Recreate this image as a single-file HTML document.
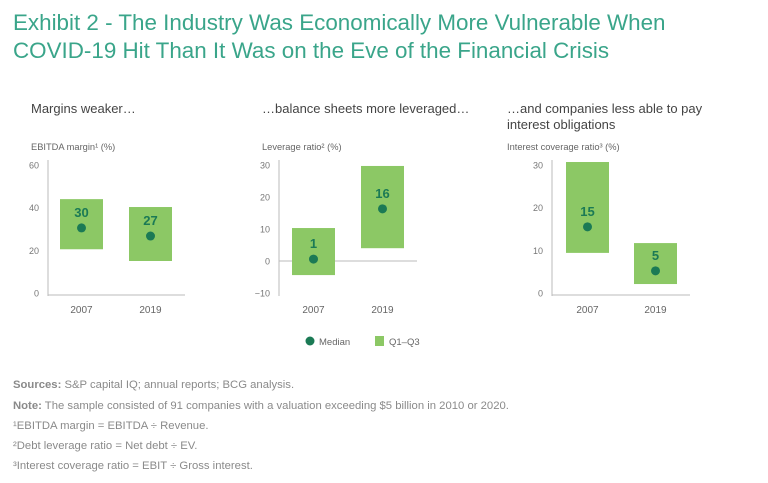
<!DOCTYPE html>
<html><head><meta charset="utf-8"><style>
body{margin:0;background:#fff;}
svg{display:block;font-family:"Liberation Sans",sans-serif;}
</style></head><body>
<svg id="c" width="768" height="483" viewBox="0 0 768 483">
<text x="13" y="30" font-size="22.4" fill="#3aa58a">Exhibit 2 - The Industry Was Economically More Vulnerable When</text>
<text x="13" y="58" font-size="22.4" fill="#3aa58a">COVID-19 Hit Than It Was on the Eve of the Financial Crisis</text>
<text x="31" y="113" font-size="13" fill="#444">Margins weaker…</text>
<text x="262" y="113" font-size="13" fill="#444">…balance sheets more leveraged…</text>
<text x="507" y="113" font-size="13" fill="#444">…and companies less able to pay</text>
<text x="507" y="129" font-size="13" fill="#444">interest obligations</text>
<text x="31" y="150" font-size="9.3" fill="#666">EBITDA margin¹ (%)</text>
<text x="262" y="150" font-size="9.3" fill="#666">Leverage ratio² (%)</text>
<text x="507" y="150" font-size="9.3" fill="#666">Interest coverage ratio³ (%)</text>
<g id="plots"></g>
<circle cx="310" cy="341" r="4.5" fill="#1b7a55"/>
<text x="319" y="345" font-size="9.5" fill="#666">Median</text>
<rect x="375" y="336" width="9" height="10" fill="#8cc865"/>
<text x="389" y="345" font-size="9.5" fill="#666">Q1–Q3</text>
<g font-size="11.3" fill="#8a8a8a">
<text x="13" y="388"><tspan font-weight="bold">Sources:</tspan> S&amp;P capital IQ; annual reports; BCG analysis.</text>
<text x="13" y="409"><tspan font-weight="bold">Note:</tspan> The sample consisted of 91 companies with a valuation exceeding $5 billion in 2010 or 2020.</text>
<text x="13" y="429">¹EBITDA margin = EBITDA ÷ Revenue.</text>
<text x="13" y="449">²Debt leverage ratio = Net debt ÷ EV.</text>
<text x="13" y="469">³Interest coverage ratio = EBIT ÷ Gross interest.</text>
</g>
</svg>
<script>
const years = ["2007","2019"];
const ebitdaQ1 = [20.5, 15];
const ebitdaQ3 = [44, 40.3];
const ebitdaMedian = [30.5, 26.7];
const ebitdaLabels = ["30","27"];
const ebitdaTicks = [0,20,40,60];
const levQ1 = [-4.4, 4];
const levQ3 = [10.3, 29.7];
const levMedian = [0.6, 16.3];
const levLabels = ["1","16"];
const levTicks = [-10,0,10,20,30];
const covQ1 = [9.4, 2.1];
const covQ3 = [30.7, 11.7];
const covMedian = [15.5, 5.2];
const covLabels = ["15","5"];
const covTicks = [0,10,20,30];

const NS="http://www.w3.org/2000/svg";
const g=document.getElementById('plots');
function mk(tag,attrs,parent){const e=document.createElementNS(NS,tag);for(const k in attrs)e.setAttribute(k,attrs[k]);(parent||g).appendChild(e);return e;}
function panel(name,axisX,axisEnd,min,max,ticks,q1,q3,med,labels,barXs,zeroLine){
  const y=v=>293-(v-min)/(max-min)*128;
  const grp=mk('g',{});
  
  
  const ax=mk('line',{x1:axisX,x2:axisX,y1:160,y2:296,stroke:'#bbb','stroke-width':1},grp);
  
  
  const by=zeroLine?y(0):295;
  const bl=mk('line',{x1:axisX,x2:axisEnd,y1:by,y2:by,stroke:'#bbb','stroke-width':1},grp);
  
  
  ticks.forEach(t=>{
    const tx=mk('text',{x:axisX-9,y:y(t)+3.5,'font-size':9,fill:'#777','text-anchor':'end'},grp);
    tx.textContent=t<0?'−'+(-t):String(t);
    
    
  });
  years.forEach((yr,i)=>{
    const x=barXs[i], w=43, cx=x+w/2;
    const r=mk('rect',{x:x,y:y(q3[i]),width:w,height:y(q1[i])-y(q3[i]),fill:'#8cc865'},grp);
    
    
    const c=mk('circle',{cx:cx,cy:y(med[i]),r:4.5,fill:'#1b7a55'},grp);
    
    
    const l=mk('text',{x:cx,y:y(med[i])-11,'font-size':13,'font-weight':'bold',fill:'#1b7a55','text-anchor':'middle'},grp);
    l.textContent=labels[i];
    
    
    const xl=mk('text',{x:cx,y:313,'font-size':10,fill:'#666','text-anchor':'middle'},grp);
    xl.textContent=yr;
    
    
  });
}
panel('ebitda',48,185,0,60,ebitdaTicks,ebitdaQ1,ebitdaQ3,ebitdaMedian,ebitdaLabels,[60,129],false);
panel('leverage',279,417,-10,30,levTicks,levQ1,levQ3,levMedian,levLabels,[292,361],true);
panel('coverage',552,690,0,30,covTicks,covQ1,covQ3,covMedian,covLabels,[566,634],false);
</script>
</body></html>
